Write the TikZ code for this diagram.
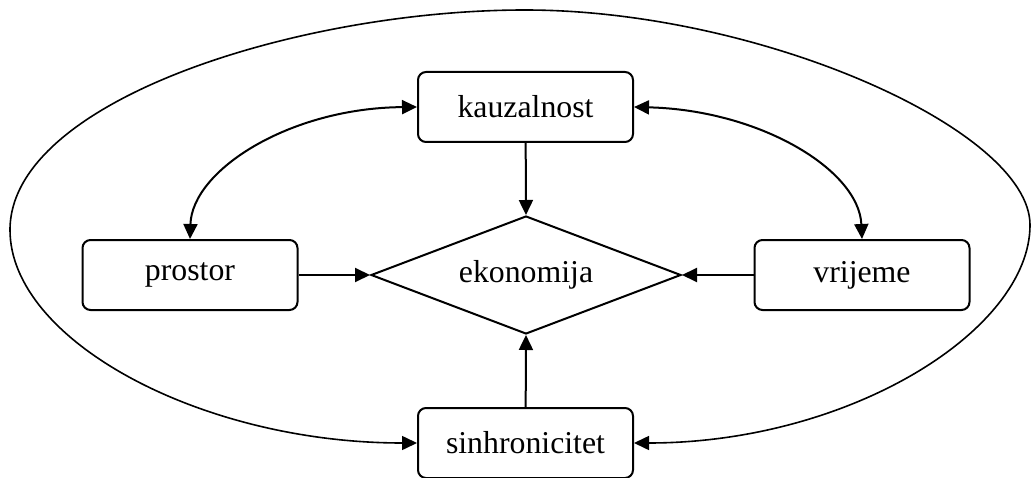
\documentclass[tikz,border=0pt]{standalone}
\usepackage{fontspec}
\setmainfont{Liberation Serif}
\usetikzlibrary{arrows.meta,shapes.geometric}
\begin{document}
\begin{tikzpicture}[x=1pt,y=-1pt,
  lbl/.style={font=\fontsize{31.8}{38}\selectfont},
  box/.style={lbl, draw, line width=2pt, rounded corners=8pt, minimum width=215pt, minimum height=70pt, inner sep=0pt},
  dia/.style={lbl, draw, diamond, shape aspect=2.627, line width=2pt, minimum width=310pt, minimum height=118pt, inner sep=0pt},
  >={Triangle[length=15pt,width=14pt]},
  arr/.style={line width=2pt, ->},
  biarr/.style={line width=2pt, <->},
  loop/.style={line width=1.6pt, <->}]
\useasboundingbox (0,0) rectangle (1032,478);
\node[box] (kauz) at (525.5,107) {kauzalnost};
\node[box] (prostor) at (190,275) {prostor};
\node[box] (vrij) at (862,275) {vrijeme};
\node[box] (sinh) at (525.5,443) {sinhronicitet};
\node[dia] (eko) at (526,275) {ekonomija};
\draw[arr] (kauz) -- (eko.north);
\draw[arr] (sinh) -- (eko.south);
\draw[arr] (prostor) -- (eko.west);
\draw[arr] (vrij) -- (eko.east);
\draw[biarr] (kauz.west) .. controls (290,108) and (192,170) .. (prostor.north);
\draw[biarr] (kauz.east) .. controls (760,110) and (859,170) .. (vrij.north);
\draw[loop] (sinh.west) .. controls (200,443) and (10,340) .. (10,230)
  .. controls (10,100) and (300,10) .. (525,10)
  .. controls (760,10) and (1030,130) .. (1030,225)
  .. controls (1030,330) and (850,443) .. (sinh.east);
\end{tikzpicture}
\end{document}
